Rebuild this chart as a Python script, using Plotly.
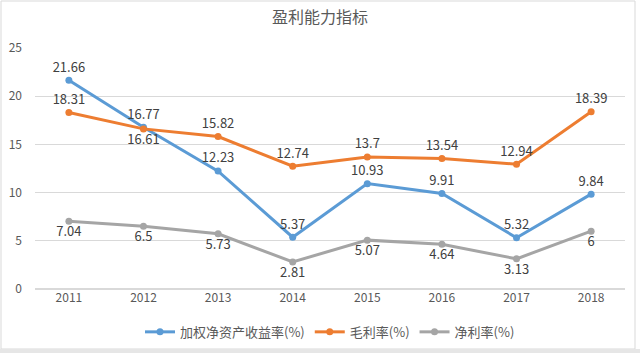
import plotly.graph_objects as go

years = ["2011", "2012", "2013", "2014", "2015", "2016", "2017", "2018"]
roe = [21.66, 16.77, 12.23, 5.37, 10.93, 9.91, 5.32, 9.84]
gross = [18.31, 16.61, 15.82, 12.74, 13.7, 13.54, 12.94, 18.39]
net = [7.04, 6.5, 5.73, 2.81, 5.07, 4.64, 3.13, 6]
y_ticks = [0, 5, 10, 15, 20, 25]

names = ["加权净资产收益率(%)", "毛利率(%)", "净利率(%)"]
colors = ["#5B9BD5", "#ED7D31", "#A5A5A5"]
positions = [
    ["top center"] * 8,
    ["top center", "bottom center"] + ["top center"] * 6,
    ["bottom center"] * 8,
]

W, H = 640, 353
font_family = "Noto Sans CJK SC, Noto Sans, sans-serif"
fig = go.Figure()
for vals, name, col, pos in zip([roe, gross, net], names, colors, positions):
    fig.add_trace(go.Scatter(
        x=years, y=vals, name=name, mode="lines+markers+text",
        line=dict(color=col, width=3),
        marker=dict(color=col, size=7),
        text=[f"{v:g}" for v in vals],
        textposition=pos,
        textfont=dict(size=13, color="#404040", family=font_family),
        cliponaxis=False,
    ))

fig.update_layout(
    width=W, height=H,
    margin=dict(l=35, r=15, t=48, b=64, autoexpand=False),
    paper_bgcolor="white", plot_bgcolor="white",
    title=dict(text="盈利能力指标", x=0.5, xanchor="center", y=0.95, yanchor="middle",
               font=dict(size=16, color="#595959", family=font_family)),
    font=dict(family=font_family, color="#595959", size=12),
    legend=dict(orientation="h", x=0.5, xanchor="center", y=-0.178, yanchor="middle",
                font=dict(size=13, color="#595959"), itemwidth=30),
    showlegend=True,
)
fig.update_xaxes(type="category", showgrid=False, showline=False, ticks="",
                 tickfont=dict(size=12, color="#595959"))
fig.update_yaxes(range=[0, 25], tickvals=y_ticks, showgrid=True, gridcolor="#D9D9D9",
                 gridwidth=1, zeroline=True, zerolinecolor="#D9D9D9", showline=False,
                 tickfont=dict(size=12, color="#595959"), ticklabelstandoff=12)
# chart frame
fig.add_shape(type="rect", xref="paper", yref="paper",
              x0=(1 - 35) / (W - 50), x1=(635 - 35) / (W - 50),
              y0=-(349 - 289) / 241, y1=(289 - 1) / 241,
              line=dict(color="#D9D9D9", width=1), layer="below")
fig.add_shape(type="rect", xref="paper", yref="paper",
              x0=-35 / (W - 50), x1=(W - 35) / (W - 50),
              y0=-(H - 289) / 241, y1=-(349 - 289) / 241,
              line=dict(width=0), fillcolor="#E6E6E6", layer="below")
fig.write_html("out.html")
